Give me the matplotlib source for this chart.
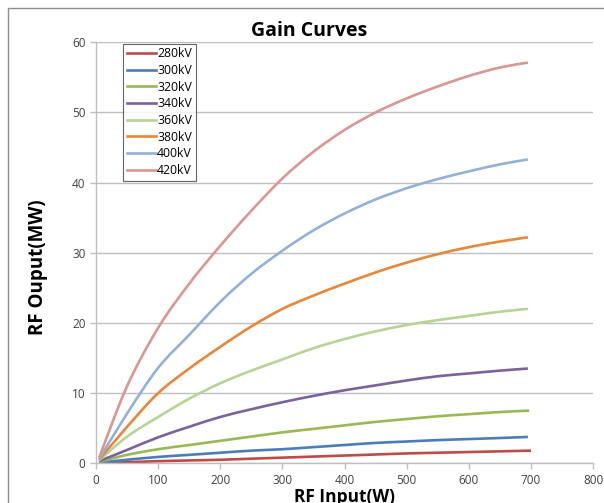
import matplotlib
matplotlib.use('Agg')
import matplotlib.pyplot as plt
from matplotlib.patches import Rectangle, PathPatch
from matplotlib.path import Path
from matplotlib.lines import Line2D

# RF input (W) sample points
x_in = [5, 50, 100, 150, 200, 250, 300, 350, 400, 450, 500, 550, 600, 650, 695]

labels = ['280kV', '300kV', '320kV', '340kV', '360kV', '380kV', '400kV', '420kV']
colors = ['#BE4B48', '#4A7EBB', '#98B954', '#7D60A0', '#B7D396', '#E8863A', '#93B1D6', '#D99694']

v280 = [0.05, 0.15, 0.3, 0.4, 0.5, 0.65, 0.8, 0.95, 1.1, 1.25, 1.4, 1.5, 1.6, 1.7, 1.8]
v300 = [0.1, 0.5, 0.9, 1.2, 1.5, 1.8, 2.0, 2.3, 2.6, 2.9, 3.1, 3.3, 3.45, 3.6, 3.75]
v320 = [0.2, 1.2, 2.0, 2.6, 3.2, 3.8, 4.4, 4.9, 5.4, 5.9, 6.3, 6.7, 7.0, 7.3, 7.5]
v340 = [0.3, 1.9, 3.7, 5.2, 6.6, 7.7, 8.7, 9.6, 10.4, 11.1, 11.8, 12.4, 12.8, 13.2, 13.5]
v360 = [0.4, 3.8, 6.6, 9.2, 11.4, 13.2, 14.8, 16.4, 17.7, 18.8, 19.7, 20.4, 21.0, 21.6, 22.0]
v380 = [0.5, 5.2, 10.0, 13.5, 16.6, 19.5, 22.0, 23.9, 25.6, 27.2, 28.6, 29.8, 30.8, 31.6, 32.2]
v400 = [0.6, 7.1, 13.6, 18.3, 23.0, 27.0, 30.3, 33.2, 35.6, 37.6, 39.2, 40.5, 41.6, 42.6, 43.3]
v420 = [0.8, 11.0, 19.3, 25.6, 31.0, 36.0, 40.6, 44.4, 47.5, 50.0, 52.0, 53.7, 55.2, 56.4, 57.1]

# last point of the lowest curves sits slightly further right
x_end = {'280kV': 700, '320kV': 697}

series = [v280, v300, v320, v340, v360, v380, v400, v420]


def smooth_path(xs, ys):
    # Excel-like smoothed line: bezier segments through the points
    pts = list(zip(xs, ys))
    verts = [pts[0]]
    codes = [Path.MOVETO]
    n = len(pts)
    for i in range(n - 1):
        p0 = pts[i - 1] if i > 0 else pts[i]
        p1 = pts[i]
        p2 = pts[i + 1]
        p3 = pts[i + 2] if i + 2 < n else pts[i + 1]
        c1 = (p1[0] + (p2[0] - p0[0]) / 6, p1[1] + (p2[1] - p0[1]) / 6)
        c2 = (p2[0] - (p3[0] - p1[0]) / 6, p2[1] - (p3[1] - p1[1]) / 6)
        verts += [c1, c2, p2]
        codes += [Path.CURVE4] * 3
    return Path(verts, codes)


plt.rcParams['font.family'] = ['Open Sans', 'DejaVu Sans']

fig = plt.figure(figsize=(6.04, 5.03), dpi=100)
ax = fig.add_axes([0.159, 0.079, 0.823, 0.837])

handles = []
for lab, col, ys in zip(labels, colors, series):
    xs = list(x_in)
    if lab in x_end:
        xs[-1] = x_end[lab]
    ax.add_patch(PathPatch(smooth_path(xs, ys), facecolor='none', edgecolor=col,
                           lw=1.9, capstyle='butt', joinstyle='round'))
    handles.append(Line2D([], [], color=col, lw=1.9, label=lab))

ax.set_xlim(0, 800)
ax.set_ylim(0, 60)
ax.set_xticks(range(0, 801, 100))
ax.set_yticks(range(0, 61, 10))
ax.grid(axis='y', color='#BFBFBF', lw=1)
ax.set_axisbelow(True)
for s in ['top', 'right']:
    ax.spines[s].set_visible(False)
for s in ['left', 'bottom']:
    ax.spines[s].set_color('#BFBFBF')
    ax.spines[s].set_linewidth(1)
ax.tick_params(colors='#BFBFBF', labelcolor='#404040', labelsize=8.5, length=4, width=1)
ax.tick_params(axis='x', pad=4)

fig.text(309 / 604, 1 - 31 / 503, 'Gain Curves', fontsize=14, fontweight='bold',
         ha='center', va='center')
ax.set_ylabel('RF Ouput(MW)', fontsize=13.5, fontweight='bold')
ax.yaxis.set_label_coords(-0.097, 0.465)
ax.set_xlabel('RF Input(W)', fontsize=12.5, fontweight='bold', labelpad=0.5)

leg = ax.legend(handles=handles, loc='upper left', bbox_to_anchor=(0.054, 0.997),
                borderaxespad=0, fontsize=8.8, frameon=True, fancybox=False,
                handlelength=2.4, handletextpad=0.1, labelspacing=0.3, borderpad=0.3)
leg.get_frame().set_edgecolor('#404040')
leg.get_frame().set_linewidth(0.8)

# chart area border (Excel style), cropped at right and bottom
fig.patches.append(Rectangle((8 / 604, -0.2), 1.2, (503 - 8) / 503 + 0.2,
                             transform=fig.transFigure, fill=False,
                             edgecolor='#8C8C8C', lw=1))

fig.savefig('out.png', dpi=100)
